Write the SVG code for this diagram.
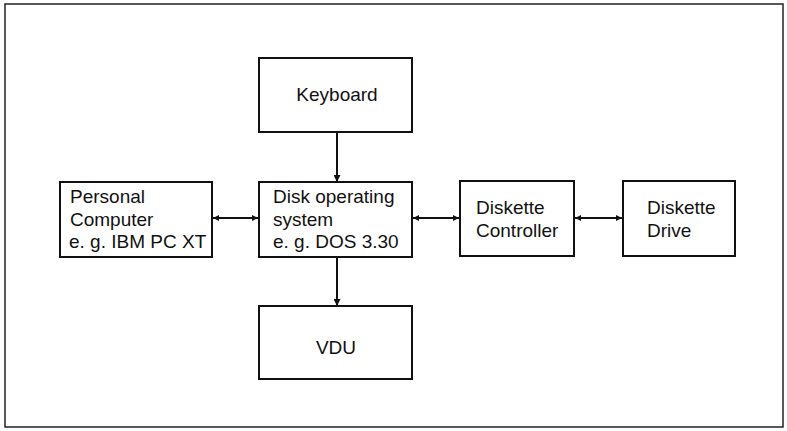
<svg xmlns="http://www.w3.org/2000/svg" width="787" height="431" viewBox="0 0 787 431">
<style>
.box{fill:#fff;stroke:#111;stroke-width:2}
.t{font-family:"Liberation Sans",Arial,sans-serif;font-size:19px;fill:#111}
.c{text-anchor:middle}
.ln{stroke:#111;stroke-width:2;fill:none}
</style>
<defs>
<marker id="ah" viewBox="0 0 10 10" refX="10" refY="5" markerWidth="12" markerHeight="6" markerUnits="userSpaceOnUse" orient="auto-start-reverse">
<path d="M0,0 L10,5 L0,10 z" fill="#111"/>
</marker>
<marker id="av" viewBox="0 0 10 10" refX="10" refY="5" markerWidth="14" markerHeight="7" markerUnits="userSpaceOnUse" orient="auto">
<path d="M0,0 L10,5 L0,10 z" fill="#111"/>
</marker>
</defs>
<rect x="5" y="4" width="778" height="423" fill="#fff" stroke="#222" stroke-width="1.5"/>
<g id="connectors">
<line class="ln" x1="337" y1="132" x2="337" y2="182" marker-end="url(#av)"/>
<line class="ln" x1="337" y1="257" x2="337" y2="306" marker-end="url(#av)"/>
<line class="ln" x1="213" y1="218" x2="258" y2="218" marker-start="url(#ah)" marker-end="url(#ah)"/>
<line class="ln" x1="413" y1="218" x2="459" y2="218" marker-start="url(#ah)" marker-end="url(#ah)"/>
<line class="ln" x1="575" y1="218" x2="622" y2="218" marker-start="url(#ah)" marker-end="url(#ah)"/>
</g>
<g id="keyboard">
<rect class="box" x="259" y="58" width="153" height="74"/>
<text class="t c" x="337" y="101">Keyboard</text>
</g>
<g id="pc">
<rect class="box" x="60" y="182" width="152" height="75"/>
<text class="t" x="70" y="203">Personal</text>
<text class="t" x="70" y="226">Computer</text>
<text class="t" x="69" y="248">e. g. IBM PC XT</text>
</g>
<g id="dos">
<rect class="box" x="259" y="182" width="153" height="75"/>
<text class="t" x="273" y="203">Disk operating</text>
<text class="t" x="273" y="226">system</text>
<text class="t" x="273" y="248">e. g. DOS 3.30</text>
</g>
<g id="controller">
<rect class="box" x="460" y="181" width="114" height="75"/>
<text class="t" x="476" y="214">Diskette</text>
<text class="t" x="476" y="237">Controller</text>
</g>
<g id="drive">
<rect class="box" x="623" y="181" width="112" height="75"/>
<text class="t" x="647" y="214">Diskette</text>
<text class="t" x="647" y="237">Drive</text>
</g>
<g id="vdu">
<rect class="box" x="259" y="306" width="153" height="73"/>
<text class="t c" x="336" y="354">VDU</text>
</g>
</svg>
